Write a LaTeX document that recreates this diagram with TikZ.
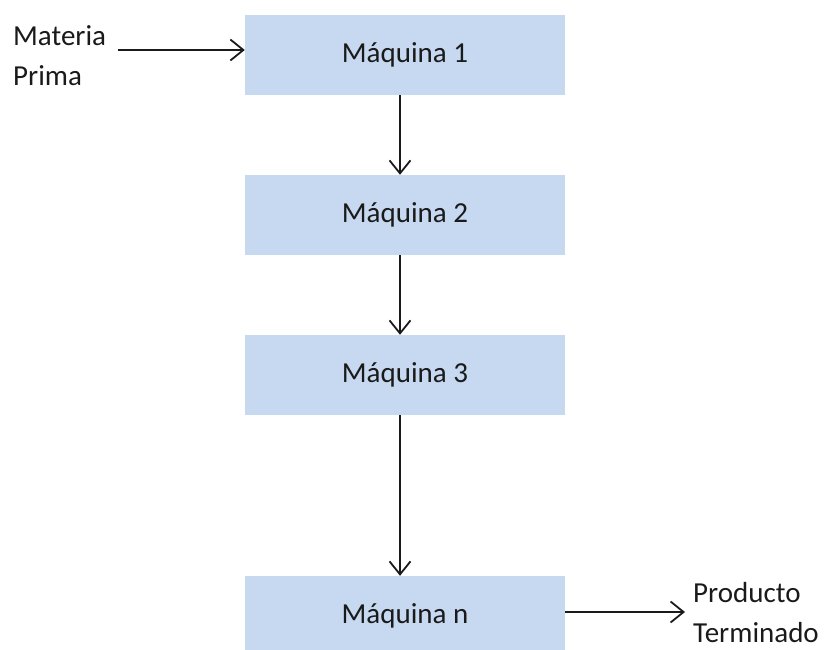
\documentclass[tikz,border=0pt]{standalone}
\usepackage{fontspec}
\setmainfont{Carlito}
\usetikzlibrary{arrows.meta}
\definecolor{boxblue}{HTML}{C6D9F1}
\definecolor{ink}{HTML}{1A1A1A}
\begin{document}
\begin{tikzpicture}[x=1pt,y=1pt,
  every node/.style={font=\fontsize{29}{40}\selectfont, text=ink},
  machine/.style={rectangle, fill=boxblue, minimum width=320pt, minimum height=80pt, inner sep=0pt},
  label/.style={align=left, inner sep=0pt, anchor=base west},
  arr/.style={draw=ink, line width=1.8pt, -{Straight Barb[length=13pt,width=21pt,line width=1.8pt]}}]
\useasboundingbox (0,0) rectangle (830,-650);
\clip (0,0) rectangle (830,-650);
\node[machine] (m1) at (405,-55) {Máquina 1};
\node[machine] (m2) at (405,-215) {Máquina 2};
\node[machine] (m3) at (405,-375) {Máquina 3};
\node[machine] (mn) at (405,-616) {Máquina n};
\node[label] (mp) at (13,-86) {Materia\\Prima};
\node[label] (pt) at (693,-642) {Producto\\Terminado};
\coordinate (in) at (118,-50);
\coordinate (out) at (685,-612);
\draw[arr] (in) -- ([yshift=5pt]m1.west);
\draw[arr] ([xshift=-5pt]m1.south) -- ([xshift=-5pt]m2.north);
\draw[arr] ([xshift=-5pt]m2.south) -- ([xshift=-5pt]m3.north);
\draw[arr] ([xshift=-5pt]m3.south) -- ([xshift=-5pt]mn.north);
\draw[arr] ([yshift=4pt]mn.east) -- (out);
\end{tikzpicture}
\end{document}
